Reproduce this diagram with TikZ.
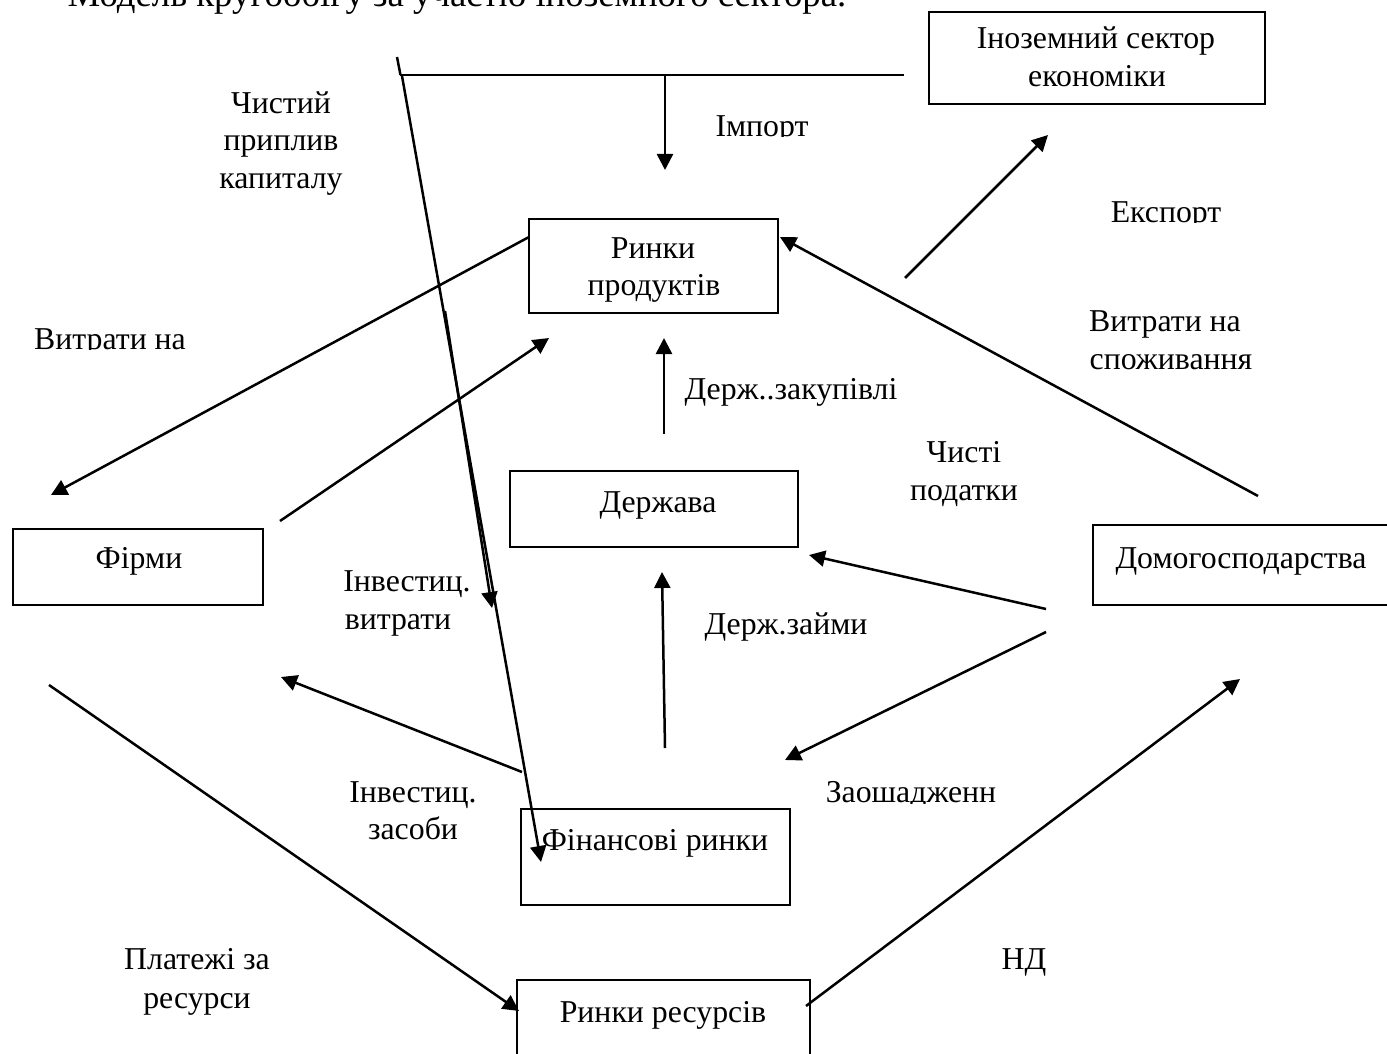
\documentclass[tikz,border=0pt]{standalone}
\usepackage{fontspec}
\setmainfont{Liberation Serif}
\usetikzlibrary{arrows.meta}
\tikzset{
  lbl/.style={anchor=base,inner sep=0pt,font=\fontsize{15.9pt}{18pt}\selectfont},
  boxline/.style={line width=1.1pt},
  conn/.style={line width=1.25pt,-{Triangle[length=8pt,width=8pt]}},
  plain/.style={line width=1.25pt},
}
\begin{document}
\begin{tikzpicture}[x=0.5pt,y=-0.5pt]
\useasboundingbox (0,0) rectangle (1387,1054);
\clip (0,0) rectangle (1387,1054);
% boxes
\draw[boxline] (929,12) rectangle (1265,104);
\draw[boxline] (529,219) rectangle (778,313);
\draw[boxline] (510,471) rectangle (798,547);
\draw[boxline] (13,529) rectangle (263,605);
\draw[boxline] (1387,525) -- (1093,525) -- (1093,605) -- (1387,605);
\draw[boxline] (521,809) rectangle (790,905);
\draw[boxline] (517,1054) -- (517,980) -- (810,980) -- (810,1054);
% coordinates
\coordinate (kTop) at (397,57);
\coordinate (kMid) at (400.5,75);
\coordinate (kS) at (402,76);
\coordinate (kEnd) at (541,862);
\coordinate (hL) at (400,75);
\coordinate (hR) at (904,75);
\coordinate (impS) at (665,75);
\coordinate (impE) at (665,170);
\coordinate (k2S) at (445,311);
\coordinate (k2E) at (492,608);
\coordinate (expS) at (905,278);
\coordinate (expE) at (1048,135);
\coordinate (spS) at (1258,496);
\coordinate (spE) at (780,237);
\coordinate (rfS) at (529,237);
\coordinate (rfE) at (51,495);
\coordinate (frS) at (280,521);
\coordinate (frE) at (549,338);
\coordinate (dzS) at (664,434);
\coordinate (dzE) at (664,338);
\coordinate (zmS) at (665,748);
\coordinate (zmE) at (662,572);
\coordinate (txS) at (1046,609);
\coordinate (txE) at (809,555);
\coordinate (svS) at (1046,632);
\coordinate (svE) at (785,760);
\coordinate (inS) at (522,772);
\coordinate (inE) at (281,677);
\coordinate (plS) at (49,685);
\coordinate (plE) at (519,1011);
\coordinate (ndS) at (806,1006);
\coordinate (ndE) at (1240,679);
% connectors
\draw[plain] (hL) -- (hR);
\draw[plain] (kTop) -- (kMid);
\draw[conn] (kS) -- (kEnd);
\draw[conn] (k2S) -- (k2E);
\draw[conn] (impS) -- (impE);
\draw[conn] (expS) -- (expE);
\draw[conn] (spS) -- (spE);
\draw[conn] (rfS) -- (rfE);
\draw[conn] (frS) -- (frE);
\draw[conn] (dzS) -- (dzE);
\draw[conn] (zmS) -- (zmE);
\draw[conn] (txS) -- (txE);
\draw[conn] (svS) -- (svE);
\draw[conn] (inS) -- (inE);
\draw[conn] (plS) -- (plE);
\draw[conn] (ndS) -- (ndE);
% box texts
\node[lbl] (t1) at (1096,49) {Іноземний сектор};
\begin{scope}\clip (900,0) rectangle (1387,88);
\node[lbl] (t2) at (1097,87) {економіки};
\end{scope}
\node[lbl] (t3) at (653,258) {Ринки};
\node[lbl] (t4) at (654,295) {продуктів};
\node[lbl] (t5) at (658,512) {Держава};
\node[lbl] (t6) at (139,568) {Фірми};
\node[lbl] (t7) at (1241,568) {Домогосподарства};
\node[lbl] (t8) at (655,850) {Фінансові ринки};
\node[lbl] (t9) at (663,1022) {Ринки ресурсів};
% title
\begin{scope}\clip (0,0) rectangle (1387,16);
\node[anchor=base,inner sep=0pt,font=\fontsize{18.4pt}{20pt}\selectfont] (title) at (457,7) {Модель кругообігу за участю іноземного сектора.};
\end{scope}
% labels
\node[lbl] (a1) at (281,114) {Чистий};
\node[lbl] (a2) at (281,151) {приплив};
\node[lbl] (a3) at (281,189) {капиталу};
\begin{scope}\clip (700,100) rectangle (830,137);
\node[lbl] (a4) at (762,137) {Імпорт};
\end{scope}
\begin{scope}\clip (1090,190) rectangle (1240,222);
\node[lbl] (a5) at (1166,222) {Експорт};
\end{scope}
\begin{scope}\clip (20,320) rectangle (200,349);
\node[lbl] (a6) at (110,349) {Витрати на};
\end{scope}
\node[lbl] (a7) at (1165,331) {Витрати на};
\node[lbl] (a8) at (1171,369) {споживання};
\node[lbl] (a9) at (791,399) {Держ..закупівлі};
\node[lbl] (a10) at (964,462) {Чисті};
\node[lbl] (a11) at (964,500) {податки};
\node[lbl] (a12) at (407,591) {Інвестиц.};
\node[lbl] (a13) at (398,629) {витрати};
\node[lbl] (a14) at (786,634) {Держ.займи};
\node[lbl] (a15) at (413,802) {Інвестиц.};
\node[lbl] (a16) at (413,839) {засоби};
\begin{scope}\clip (810,770) rectangle (1010,803);
\node[lbl] (a17) at (911,802) {Заошадженн};
\end{scope}
\node[lbl] (a18) at (197,969) {Платежі за};
\node[lbl] (a19) at (197,1008) {ресурси};
\node[lbl] (a20) at (1024,969) {НД};
\end{tikzpicture}
\end{document}
